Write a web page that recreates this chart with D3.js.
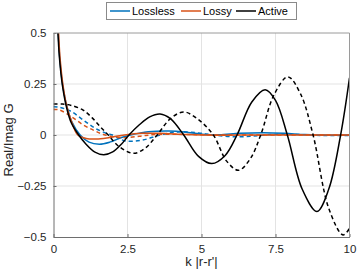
<!DOCTYPE html>
<html>
<head>
<meta charset="utf-8">
<script src="https://cdn.jsdelivr.net/npm/d3@7"></script>
<style>
  body { margin: 0; background: #fff; }
  svg { display: block; font-family: "Liberation Sans", Arial, sans-serif; }
</style>
</head>
<body>
<svg id="chart" width="357" height="273"></svg>
<script>
// values, [k|r-r'|, G]
const losslessReal = [[0.1,0.64],[0.16,0.5],[0.21,0.38],[0.31,0.245],[0.47,0.13],[0.62,0.065],[0.9,0],[1.2,-0.035],
  [1.55,-0.045],[1.9,-0.035],[2.3,-0.012],[2.6,0],[3.2,0.016],[3.9,0.02],[4.5,0.014],[5.1,0.003],[5.6,0.001],
  [6.3,0.008],[7.1,0.011],[7.8,0.008],[8.5,0.002],[9.3,-0.001],[10,0]];
const losslessImag = [[0,0.138],[0.2,0.136],[0.6,0.115],[1.0,0.074],[1.4,0.034],[1.8,0.008],[2.0,0],[2.4,-0.028],
  [3.0,-0.025],[3.6,0],[4.2,0.015],[4.9,0.01],[5.4,0],[6.2,-0.009],[6.9,-0.003],[7.5,0.003],[8.3,0.002],
  [9.0,-0.002],[10,-0.002]];
const lossyReal = [[0.1,0.66],[0.17,0.5],[0.22,0.38],[0.32,0.245],[0.45,0.14],[0.6,0.07],[0.82,0],[1.1,-0.017],
  [1.45,-0.02],[1.9,-0.012],[2.4,0],[3.0,0.008],[3.6,0.008],[4.5,0.002],[5.5,-0.001],[7,0],[10,0]];
const lossyImag = [[0,0.125],[0.2,0.123],[0.6,0.09],[1.0,0.05],[1.4,0.02],[1.75,0],[2.3,-0.013],[2.9,-0.006],
  [3.4,0.002],[4.2,0.004],[5,0.001],[10,0]];
const activeReal = [[0.1,0.62],[0.15,0.5],[0.2,0.38],[0.3,0.245],[0.45,0.13],[0.6,0.06],[0.85,0],[1.1,-0.045],
  [1.4,-0.084],[1.7,-0.097],[2.0,-0.083],[2.3,-0.044],[2.55,0],[2.9,0.05],[3.25,0.089],[3.6,0.103],[3.95,0.08],
  [4.4,0],[4.9,-0.105],[5.35,-0.14],[5.8,-0.1],[6.2,0],[6.7,0.162],[7.15,0.222],[7.5,0.17],[7.9,0],[8.4,-0.265],
  [8.9,-0.375],[9.3,-0.265],[9.7,0],[10,0.28]];
const activeImag = [[0,0.152],[0.3,0.152],[0.6,0.145],[1.0,0.122],[1.3,0.085],[1.55,0.045],[1.85,0],[2.2,-0.055],
  [2.7,-0.09],[3.1,-0.064],[3.5,0],[3.95,0.08],[4.4,0.113],[4.9,0.075],[5.4,0],[5.85,-0.128],[6.25,-0.173],
  [6.65,-0.116],[7.0,0],[7.45,0.197],[7.92,0.285],[8.35,0.2],[8.77,0],[9.3,-0.36],[9.78,-0.49],[10,-0.458]];

const seriesNames = ["Lossless", "Lossy", "Active"];
const seriesColors = ["#0072BD", "#D95319", "#000000"];
const xTicks = [0, 2.5, 5, 7.5, 10];
const yTicks = [-0.5, -0.25, 0, 0.25, 0.5];

const view = { width: 357, height: 273, left: 53.5, right: 349.5, top: 33, bottom: 237 };

const svg = d3.select("#chart");
const x = d3.scaleLinear().domain([0, 10]).range([view.left, view.right]);
const y = d3.scaleLinear().domain([-0.5, 0.5]).range([view.bottom, view.top]);
const fmt = d => d3.format("")(d);

// grid
svg.append("g")
  .selectAll("line.gx").data(xTicks.slice(1, -1)).join("line")
  .attr("x1", d => x(d)).attr("x2", d => x(d))
  .attr("y1", view.top).attr("y2", view.bottom)
  .attr("stroke", "#e3e3e3").attr("stroke-width", 1);
svg.append("g")
  .selectAll("line.gy").data(yTicks.slice(1, -1)).join("line")
  .attr("x1", view.left).attr("x2", view.right)
  .attr("y1", d => y(d)).attr("y2", d => y(d))
  .attr("stroke", "#e3e3e3").attr("stroke-width", 1);

// curves
svg.append("clipPath").attr("id", "clip")
  .append("rect")
  .attr("x", view.left).attr("y", view.top)
  .attr("width", view.right - view.left).attr("height", view.bottom - view.top);

const line = d3.line()
  .x(d => x(d[0])).y(d => y(d[1]))
  .curve(d3.curveCatmullRom.alpha(0.5));

const curves = [
  { data: losslessReal, color: 0, dash: null },
  { data: losslessImag, color: 0, dash: "4,3" },
  { data: lossyReal, color: 1, dash: null },
  { data: lossyImag, color: 1, dash: "4,3" },
  { data: activeReal, color: 2, dash: null },
  { data: activeImag, color: 2, dash: "4,3" },
];

svg.append("g").attr("clip-path", "url(#clip)")
  .selectAll("path").data(curves).join("path")
  .attr("d", d => line(d.data))
  .attr("fill", "none")
  .attr("stroke", d => seriesColors[d.color])
  .attr("stroke-width", 1.5)
  .attr("stroke-dasharray", d => d.dash);

// axes (MATLAB style, ticks inward, box on)
const xAxis = svg.append("g")
  .attr("transform", `translate(0,${view.bottom})`)
  .call(d3.axisBottom(x).tickValues(xTicks).tickFormat(fmt).tickSizeInner(-3).tickSizeOuter(0).tickPadding(8));
const yAxis = svg.append("g")
  .attr("transform", `translate(${view.left},0)`)
  .call(d3.axisLeft(y).tickValues(yTicks).tickFormat(fmt).tickSizeInner(-3).tickSizeOuter(0).tickPadding(7));

[xAxis, yAxis].forEach(a => {
  a.select(".domain").attr("stroke", "#6e6e6e");
  a.selectAll(".tick line").attr("stroke", "#6e6e6e");
  a.selectAll(".tick text").attr("fill", "#262626").style("font-size", "11.5px");
});

svg.append("line")
  .attr("x1", view.left).attr("x2", view.right)
  .attr("y1", view.top).attr("y2", view.top)
  .attr("stroke", "#9a9a9a");
svg.append("line")
  .attr("x1", view.right).attr("x2", view.right)
  .attr("y1", view.top).attr("y2", view.bottom)
  .attr("stroke", "#9a9a9a");

// axis labels
svg.append("text")
  .attr("x", (view.left + view.right) / 2).attr("y", 266)
  .attr("text-anchor", "middle")
  .attr("fill", "#262626").style("font-size", "13px")
  .text("k |r-r'|");
svg.append("text")
  .attr("transform", `translate(13,${(view.top + view.bottom) / 2 + 5}) rotate(-90)`)
  .attr("text-anchor", "middle")
  .attr("fill", "#262626").style("font-size", "13px")
  .text("Real/Imag G");

// legend
const legend = svg.append("g");
legend.append("rect")
  .attr("x", 106.5).attr("y", 2.5).attr("width", 190).attr("height", 17)
  .attr("fill", "#fff").attr("stroke", "#8a8a8a");
const legendX = [110, 181, 236];
const item = legend.selectAll("g.item").data(seriesNames).join("g")
  .attr("transform", (d, i) => `translate(${legendX[i]},11)`);
item.append("line")
  .attr("x1", 0).attr("x2", 20).attr("y1", 0).attr("y2", 0)
  .attr("stroke", (d, i) => seriesColors[i]).attr("stroke-width", 1.5);
item.append("text")
  .attr("x", 22).attr("y", 4)
  .attr("fill", "#000").style("font-size", "11px")
  .text(d => d);
</script>
</body>
</html>
